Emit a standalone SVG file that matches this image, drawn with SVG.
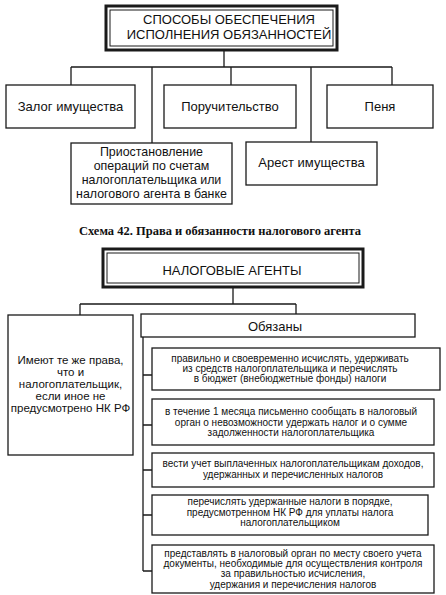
<svg xmlns="http://www.w3.org/2000/svg" width="446" height="595" viewBox="0 0 446 595">
<style>
.bx{fill:#fff;stroke:#1a1a1a;stroke-width:1.3}
.thick{fill:#fff;stroke:#1a1a1a;stroke-width:3}
.thin{fill:none;stroke:#1a1a1a;stroke-width:1}
.ln{fill:none;stroke:#1a1a1a;stroke-width:1.3}
.t13{font-family:"Liberation Sans",Arial,sans-serif;font-size:13px;fill:#111;text-anchor:middle}
.t12{font-family:"Liberation Sans",Arial,sans-serif;font-size:12.4px;fill:#111;text-anchor:middle}
.t11{font-family:"Liberation Sans",Arial,sans-serif;font-size:11.5px;fill:#111;text-anchor:middle}
.t10{font-family:"Liberation Sans",Arial,sans-serif;font-size:10px;fill:#111;text-anchor:middle}
.ttl{font-family:"Liberation Serif","Times New Roman",serif;font-size:12.5px;font-weight:bold;fill:#111;text-anchor:middle}
</style>
<rect width="446" height="595" fill="#fff"/>
<g id="connectors">
<path class="ln" d="M224 50V67M71 67H392M71 67V85M152 67V143M231 67V85M311 67V142M392 67V85"/>
<path class="ln" d="M233 287V304M80 304H296M80 304V315M296 304V314"/>
<path class="ln" d="M143 337V571M143 375H152M143 425H152M143 470H152M143 515H152M143 571H152"/>
</g>
<g id="top">
<rect class="thick" x="106" y="6" width="231" height="44"/>
<rect class="thin" x="110" y="10" width="223" height="36"/>
<text class="t13" x="229" y="24">СПОСОБЫ ОБЕСПЕЧЕНИЯ</text>
<text class="t13" x="229" y="39">ИСПОЛНЕНИЯ ОБЯЗАННОСТЕЙ</text>
</g>
<g id="zalog">
<rect class="bx" x="6" y="85" width="129" height="43"/>
<text class="t13" x="70.5" y="111">Залог имущества</text>
</g>
<g id="poruch">
<rect class="bx" x="164" y="85" width="132" height="43"/>
<text class="t13" x="230" y="111">Поручительство</text>
</g>
<g id="penya">
<rect class="bx" x="327" y="85" width="106" height="43"/>
<text class="t13" x="380" y="111">Пеня</text>
</g>
<g id="priost">
<rect class="bx" x="71" y="143" width="161" height="61"/>
<text class="t12" x="151.5" y="155.5">Приостановление</text>
<text class="t12" x="151.5" y="169.5">операций по счетам</text>
<text class="t12" x="151.5" y="183.5">налогоплательщика или</text>
<text class="t12" x="151.5" y="197.5">налогового агента в банке</text>
</g>
<g id="arest">
<rect class="bx" x="246" y="142" width="131" height="43"/>
<text class="t13" x="311.5" y="167">Арест имущества</text>
</g>
<text class="ttl" x="220" y="235">Схема 42. Права и обязанности налогового агента</text>
<g id="agents">
<rect class="thick" x="103" y="249" width="260" height="38"/>
<rect class="thin" x="107" y="253" width="252" height="30"/>
<text class="t13" x="232" y="275">НАЛОГОВЫЕ АГЕНТЫ</text>
</g>
<g id="rights">
<rect class="bx" x="8" y="315" width="125" height="140"/>
<text class="t11" x="70.5" y="364">Имеют те же права,</text>
<text class="t11" x="70.5" y="376">что и</text>
<text class="t11" x="70.5" y="388">налогоплательщик,</text>
<text class="t11" x="70.5" y="400">если иное не</text>
<text class="t11" x="70.5" y="412">предусмотрено НК РФ</text>
</g>
<g id="obyazany">
<rect class="bx" x="141" y="314" width="274" height="23"/>
<text class="t13" x="275" y="331">Обязаны</text>
</g>
<g id="item1">
<rect class="bx" x="152" y="348" width="288" height="42"/>
<text class="t10" x="290" y="362">правильно и своевременно исчислять, удерживать</text>
<text class="t10" x="290" y="372">из средств налогоплательщика и перечислять</text>
<text class="t10" x="290" y="382">в бюджет (внебюджетные фонды) налоги</text>
</g>
<g id="item2">
<rect class="bx" x="152" y="399" width="282" height="46"/>
<text class="t10" x="291" y="415">в течение 1 месяца письменно сообщать в налоговый</text>
<text class="t10" x="291" y="425.5">орган о невозможности удержать налог и о сумме</text>
<text class="t10" x="291" y="436">задолженности налогоплательщика</text>
</g>
<g id="item3">
<rect class="bx" x="152" y="453" width="282" height="34"/>
<text class="t10" x="293" y="467">вести учет выплаченных налогоплательщикам доходов,</text>
<text class="t10" x="293" y="478">удержанных и перечисленных налогов</text>
</g>
<g id="item4">
<rect class="bx" x="152" y="495" width="276" height="40"/>
<text class="t10" x="290" y="505">перечислять удержанные налоги в порядке,</text>
<text class="t10" x="290" y="515.5">предусмотренном НК РФ для уплаты налога</text>
<text class="t10" x="290" y="526">налогоплательщиком</text>
</g>
<g id="item5">
<rect class="bx" x="152" y="545" width="282" height="48"/>
<text class="t10" x="293" y="557">представлять в налоговый орган по месту своего учета</text>
<text class="t10" x="293" y="567">документы, необходимые для осуществления контроля</text>
<text class="t10" x="293" y="577">за правильностью исчисления,</text>
<text class="t10" x="293" y="588">удержания и перечисления налогов</text>
</g>
</svg>
